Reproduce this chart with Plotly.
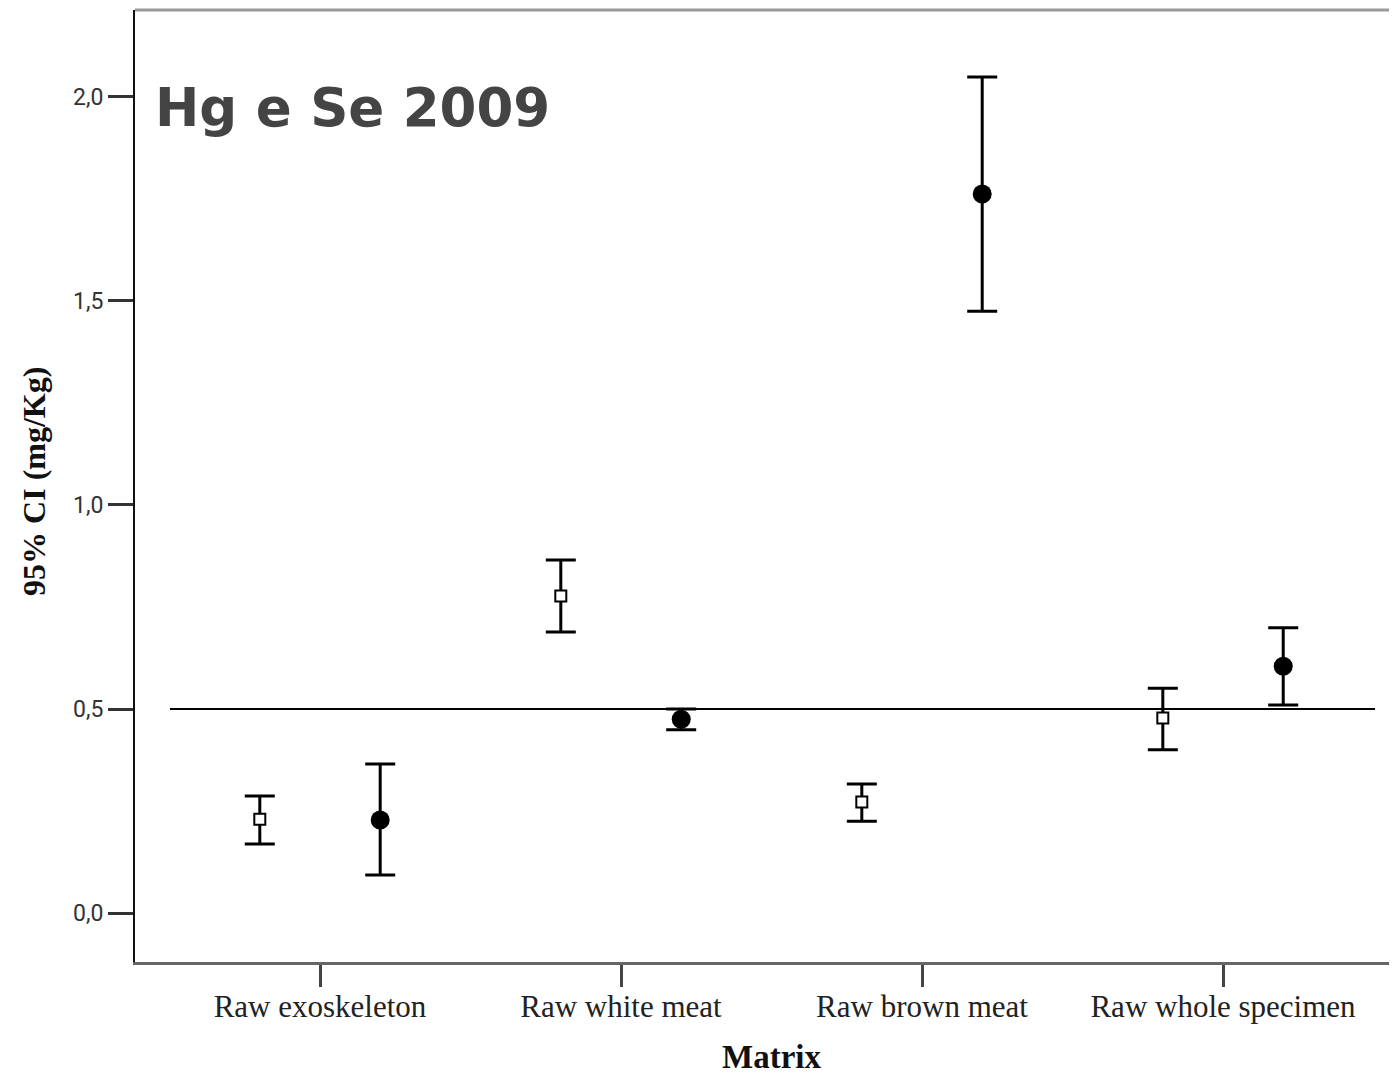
import plotly.graph_objects as go

categories = ["Raw exoskeleton", "Raw white meat", "Raw brown meat", "Raw whole specimen"]
hg_mean = [0.230, 0.777, 0.272, 0.478]
hg_upper = [0.287, 0.865, 0.316, 0.551]
hg_lower = [0.169, 0.689, 0.225, 0.400]
se_mean = [0.228, 0.475, 1.762, 0.605]
se_upper = [0.365, 0.500, 2.049, 0.699]
se_lower = [0.093, 0.449, 1.475, 0.510]
reference_value = 0.5
y_ticks = [0.0, 0.5, 1.0, 1.5, 2.0]

offset = 0.2
pos = list(range(len(categories)))

fig = go.Figure()

fig.add_trace(go.Scatter(
    x=[p - offset for p in pos], y=hg_mean, mode="markers", name="Hg",
    marker=dict(symbol="square", size=11, color="white", line=dict(color="black", width=2)),
    error_y=dict(type="data", symmetric=False,
                 array=[u - m for u, m in zip(hg_upper, hg_mean)],
                 arrayminus=[m - l for m, l in zip(hg_mean, hg_lower)],
                 color="black", thickness=3, width=15),
))
fig.add_trace(go.Scatter(
    x=[p + offset for p in pos], y=se_mean, mode="markers", name="Se",
    marker=dict(symbol="circle", size=19, color="black"),
    error_y=dict(type="data", symmetric=False,
                 array=[u - m for u, m in zip(se_upper, se_mean)],
                 arrayminus=[m - l for m, l in zip(se_mean, se_lower)],
                 color="black", thickness=3, width=15),
))

fig.add_shape(type="line", xref="paper", yref="y", x0=0.0277, x1=0.9826,
              y0=reference_value, y1=reference_value,
              line=dict(color="black", width=2), layer="below")
fig.add_shape(type="line", xref="paper", yref="paper", x0=0, x1=1, y0=1, y1=1,
              line=dict(color="#999999", width=3))

fig.add_annotation(text="<b>Hg e Se 2009</b>", xref="paper", yref="paper",
                   x=0.0143, y=0.898, xanchor="left", yanchor="middle", showarrow=False,
                   font=dict(family="DejaVu Sans", size=53, color="#444444"))
fig.add_annotation(text="<b>Matrix</b>", xref="paper", yref="paper",
                   x=0.504, y=-0.100, xanchor="center", yanchor="middle", showarrow=False,
                   font=dict(family="Liberation Serif", size=33, color="#111111"))
fig.add_annotation(text="<b>95% CI (mg/Kg)</b>", xref="paper", yref="paper",
                   x=-0.0795, y=0.505, xanchor="center", yanchor="middle", showarrow=False,
                   textangle=-90,
                   font=dict(family="Liberation Serif", size=32, color="#111111"))

fig.update_layout(
    width=1389, height=1070,
    margin=dict(l=127, r=0, t=2, b=116),
    paper_bgcolor="white", plot_bgcolor="white",
    showlegend=False,
    separators=",.",
    xaxis=dict(range=[-0.6146, 3.578], tickvals=pos, ticktext=categories,
               showgrid=False, zeroline=False, showline=True, linecolor="#666666", linewidth=3,
               ticks="outside", ticklen=22, tickwidth=3, tickcolor="#444444",
               ticklabelstandoff=-7,
               tickfont=dict(family="Liberation Serif", size=31, color="#222222")),
    yaxis=dict(range=[-0.120, 2.213], tickvals=y_ticks, tickformat=".1f",
               showgrid=False, zeroline=False, showline=True, linecolor="#111111", linewidth=2,
               ticks="outside", ticklen=25, tickwidth=3, tickcolor="#333333",
               tickfont=dict(family="Roboto", size=23, color="#333333")),
)

fig.write_html("out.html")
